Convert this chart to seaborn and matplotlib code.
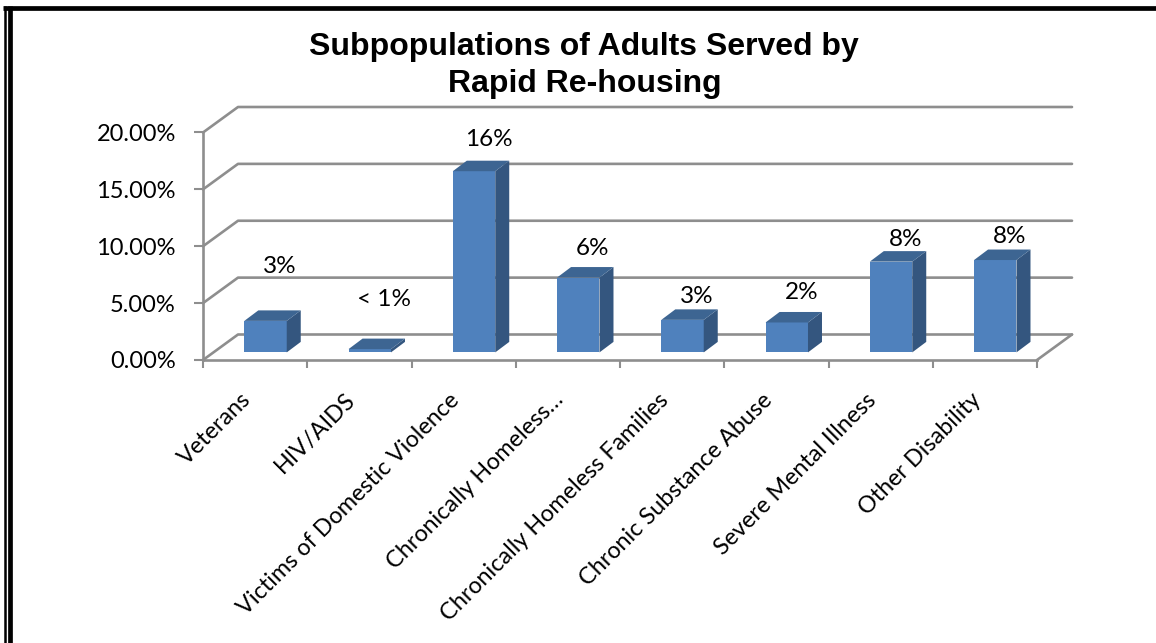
import numpy as np
import pandas as pd
import matplotlib
matplotlib.use("Agg")
import matplotlib.pyplot as plt
import seaborn as sns
from matplotlib.transforms import ScaledTranslation, IdentityTransform
from matplotlib.lines import Line2D
from matplotlib.patches import Polygon

# ---------------- data ----------------
categories = ["Veterans", "HIV/AIDS", "Victims of Domestic Violence",
              "Chronically Homeless\u2026", "Chronically Homeless Families",
              "Chronic Substance Abuse", "Severe Mental Illness", "Other Disability"]
values = [2.77, 0.29, 15.93, 6.58, 2.86, 2.63, 7.98, 8.12]
value_labels = ["3%", "< 1%", "16%", "6%", "3%", "2%", "8%", "8%"]
y_ticks = [0, 5, 10, 15, 20]
y_tick_labels = ["0.00%", "5.00%", "10.00%", "15.00%", "20.00%"]
title_lines = ["Subpopulations of Adults Served by", "Rapid Re-housing"]

# ---------------- style ----------------
label_gap_px = [48, 43, 25, 23, 17, 23, 16, 17]   # Excel's label placement above bars
FRONT = "#4f81bd"
SIDE = "#34567f"
TOP = "#3d6592"
GRID = "#8e8e8e"
W, H, DPI = 1156, 643, 100

sns.set_theme(style="white")
plt.rcParams['font.family'] = ['Lato', 'DejaVu Sans']
plt.rcParams['text.color'] = 'black'
plt.rcParams['xtick.color'] = 'black'
plt.rcParams['ytick.color'] = 'black'

fig = plt.figure(figsize=(W / DPI, H / DPI), dpi=DPI)
ax = fig.add_axes([203 / W, (H - 360) / H, 834 / W, 227.5 / H])
ax.set_facecolor("none")

df = pd.DataFrame({"cat": categories, "val": values})
sns.barplot(data=df, x="cat", y="val", color=FRONT, saturation=1, width=0.407,
            ax=ax, zorder=3, linewidth=0)
ax.set_xlim(-0.5, 7.5)
ax.set_ylim(0, 20)
ax.autoscale(False)

# 3D offsets (pixels)
bar_shift = (10.4, 7.6)
depth = (14.0, 10.5)
back = (35.0, 25.5)
shiftT = ax.transData + ScaledTranslation(bar_shift[0] / DPI, bar_shift[1] / DPI, fig.dpi_scale_trans)
ident = IdentityTransform()

patches = list(ax.patches)
for p in patches:
    p.set_transform(shiftT)
    x0, w, h = p.get_x(), p.get_width(), p.get_height()
    BR = np.array(shiftT.transform((x0 + w, 0)))
    TR = np.array(shiftT.transform((x0 + w, h)))
    TL = np.array(shiftT.transform((x0, h)))
    d = np.array(depth)
    side = Polygon([BR, BR + d, TR + d, TR], closed=True, facecolor=SIDE,
                   edgecolor="none", transform=ident, clip_on=False, zorder=3)
    top = Polygon([TL, TR, TR + d, TL + d], closed=True, facecolor=TOP,
                  edgecolor="none", transform=ident, clip_on=False, zorder=3)
    ax.add_artist(side)
    ax.add_artist(top)

# walls / gridlines
b = np.array(back)
for yv in y_ticks:
    F = np.array(ax.transData.transform((-0.5, yv)))
    R = np.array(ax.transData.transform((7.5, yv))) + b
    pts = np.array([F, F + b, R])
    ax.add_artist(Line2D(pts[:, 0], pts[:, 1], color=GRID, lw=1.9,
                         transform=ident, clip_on=False, zorder=1))
FR = np.array(ax.transData.transform((7.5, 0)))
pts = np.array([FR, FR + b])
ax.add_artist(Line2D(pts[:, 0], pts[:, 1], color=GRID, lw=1.9,
                     transform=ident, clip_on=False, zorder=1))

# data labels
for i, (v, lbl) in enumerate(zip(values, value_labels)):
    T = ax.transData + ScaledTranslation((bar_shift[0] + 14.5) / DPI,
                                         (bar_shift[1] + label_gap_px[i]) / DPI,
                                         fig.dpi_scale_trans)
    ax.text(i, v, lbl, transform=T, ha="center", va="baseline",
            fontsize=17.5, color="black", zorder=5)

# axes
for s in ["top", "right"]:
    ax.spines[s].set_visible(False)
for s in ["left", "bottom"]:
    ax.spines[s].set_color(GRID)
    ax.spines[s].set_linewidth(1.9)
ax.set_yticks(y_ticks)
ax.set_yticklabels(y_tick_labels)
ax.set_xticks(range(len(categories)))
ax.set_xticklabels(categories, rotation=45, ha="right")
ax.set_xticks(np.arange(-0.5, len(categories)), minor=True)
ax.tick_params(axis="y", which="major", left=True, length=6.5, width=1.5,
               color=GRID, pad=13, labelsize=17, labelcolor="black")
ax.tick_params(axis="x", which="major", bottom=True, length=0, pad=21,
               labelsize=16.8, labelcolor="black")
ax.tick_params(axis="x", which="minor", bottom=True, length=5.8, width=1.5,
               color=GRID)
ax.set_xlabel("")
ax.set_ylabel("")

# title
fig.text(584 / W, 1 - 47 / H, title_lines[0], ha="center", va="center", color="black",
         fontsize=23, fontweight="bold", family=["Liberation Sans", "DejaVu Sans"])
fig.text(585 / W, 1 - 84 / H, title_lines[1], ha="center", va="center", color="black",
         fontsize=23, fontweight="bold", family=["Liberation Sans", "DejaVu Sans"])

# outer frame
def fx(x):
    return x / W
def fy(y):
    return 1 - y / H
fig.add_artist(Line2D([fx(3), fx(W)], [fy(8.3), fy(8.3)], color="black", lw=3.4,
                      transform=fig.transFigure, solid_capstyle="butt"))
fig.add_artist(Line2D([fx(4.6), fx(4.6)], [fy(6), fy(H)], color="black", lw=1.8,
                      transform=fig.transFigure, solid_capstyle="butt"))
fig.add_artist(Line2D([fx(9.7), fx(9.7)], [fy(6), fy(H)], color="black", lw=3.4,
                      transform=fig.transFigure, solid_capstyle="butt"))

fig.savefig("out.png", dpi=DPI, facecolor="white")
